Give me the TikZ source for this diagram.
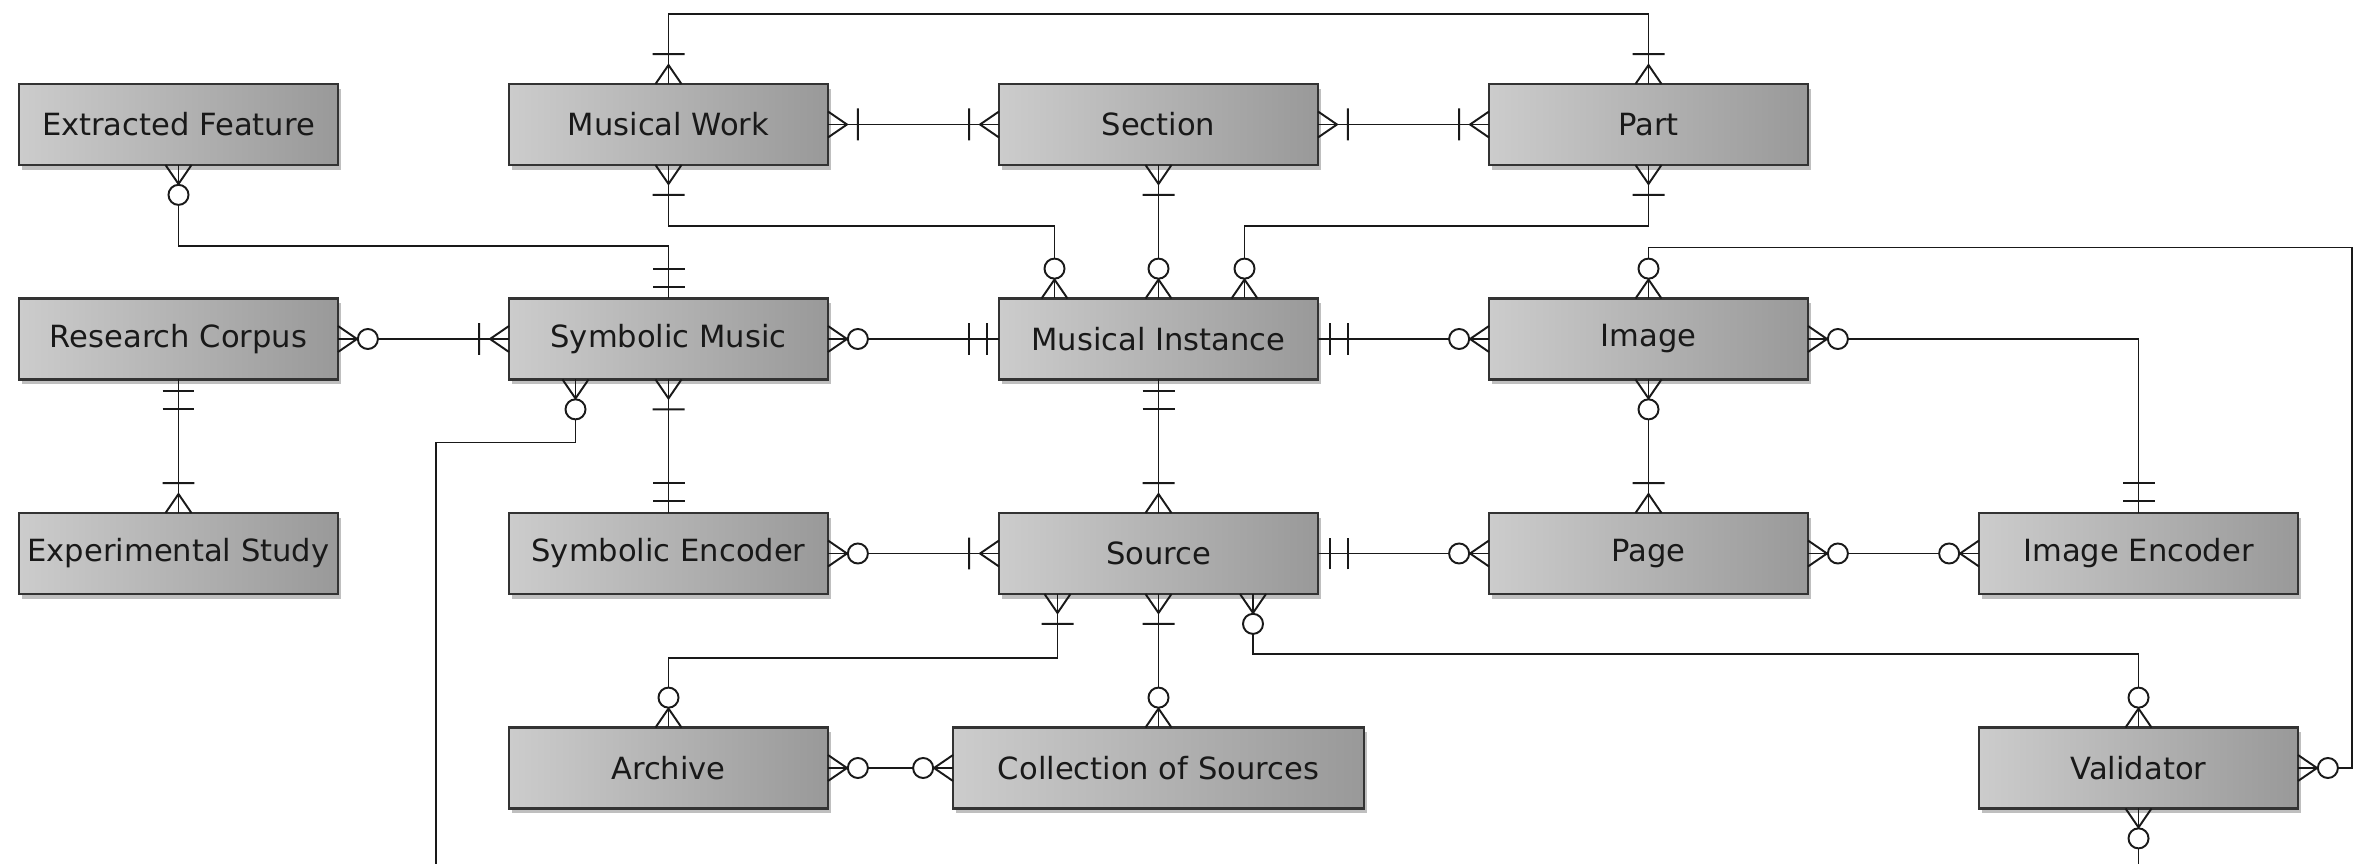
\documentclass[tikz,border=0pt]{standalone}
\usepackage{fontspec}
\setmainfont{DejaVu Sans}
\usetikzlibrary{positioning,shadows}

% crow's foot ends: zero or many, one or many, exactly one
\pgfdeclarearrow{
  name = zmany,
  setup code = {
    \pgfarrowssettipend{0pt}
    \pgfarrowssetlineend{0pt}
    \pgfarrowssetbackend{-11.5pt}
    \pgfarrowshullpoint{0pt}{3.8pt}
    \pgfarrowshullpoint{0pt}{-3.8pt}
    \pgfarrowshullpoint{-11.5pt}{3pt}
    \pgfarrowshullpoint{-11.5pt}{-3pt}
  },
  drawing code = {
    \pgfsetdash{}{0pt}
    \pgfpathmoveto{\pgfpoint{0pt}{3.7pt}}
    \pgfpathlineto{\pgfpoint{-5.4pt}{0pt}}
    \pgfpathlineto{\pgfpoint{0pt}{-3.7pt}}
    \pgfusepathqstroke
    \pgfpathcircle{\pgfpoint{-8.5pt}{0pt}}{2.85pt}
    \pgfsetfillcolor{white}
    \pgfusepathqfillstroke
  }
}
\pgfdeclarearrow{
  name = omany,
  setup code = {
    \pgfarrowssettipend{0pt}
    \pgfarrowssetlineend{0pt}
    \pgfarrowssetbackend{-9pt}
    \pgfarrowshullpoint{0pt}{4.6pt}
    \pgfarrowshullpoint{0pt}{-4.6pt}
    \pgfarrowshullpoint{-9pt}{4.6pt}
    \pgfarrowshullpoint{-9pt}{-4.6pt}
  },
  drawing code = {
    \pgfsetdash{}{0pt}
    \pgfpathmoveto{\pgfpoint{0pt}{3.7pt}}
    \pgfpathlineto{\pgfpoint{-5.4pt}{0pt}}
    \pgfpathlineto{\pgfpoint{0pt}{-3.7pt}}
    \pgfpathmoveto{\pgfpoint{-8.5pt}{4.55pt}}
    \pgfpathlineto{\pgfpoint{-8.5pt}{-4.55pt}}
    \pgfusepathqstroke
  }
}
\pgfdeclarearrow{
  name = one,
  setup code = {
    \pgfarrowssettipend{0pt}
    \pgfarrowssetlineend{0pt}
    \pgfarrowssetbackend{-9pt}
    \pgfarrowshullpoint{0pt}{4.6pt}
    \pgfarrowshullpoint{0pt}{-4.6pt}
    \pgfarrowshullpoint{-9pt}{4.6pt}
    \pgfarrowshullpoint{-9pt}{-4.6pt}
  },
  drawing code = {
    \pgfsetdash{}{0pt}
    \pgfpathmoveto{\pgfpoint{-3.4pt}{4.55pt}}
    \pgfpathlineto{\pgfpoint{-3.4pt}{-4.55pt}}
    \pgfpathmoveto{\pgfpoint{-8.5pt}{4.55pt}}
    \pgfpathlineto{\pgfpoint{-8.5pt}{-4.55pt}}
    \pgfusepathqstroke
  }
}

\tikzset{
    % entity boxes
    entity/.style={
           rectangle,
           draw=black!80, line width=0.6pt,
           left color=black!20, right color=black!40,
           drop shadow={shadow xshift=0.8pt, shadow yshift=-1.4pt,
                        opacity=0.25, fill=black},
           minimum width=3.19cm,
           minimum height=0.81cm,
           inner sep=0pt, outer sep=0pt,
           text=black!90,
           font=\fontsize{8.7}{10}\selectfont},
    % relation lines
    link/.style={
           line width=0.55pt,
           draw=black!90}
}

\begin{document}
\begin{tikzpicture}
\useasboundingbox (0,0) rectangle (23.58,-8.64);
\node[entity] (feature) at (1.785,-1.245) {Extracted Feature};
\node[entity, right=1.71cm of feature] (work) {Musical Work};
\node[entity, right=1.71cm of work] (section) {Section};
\node[entity, right=1.71cm of section] (part) {Part};
\node[entity, below=1.335cm of feature] (corpus) {Research Corpus};
\node[entity, below=1.335cm of work] (symbolic) {Symbolic Music};
\node[entity, below=1.335cm of section] (instance) {Musical Instance};
\node[entity, below=1.335cm of part] (image) {Image};
\node[entity, below=1.335cm of corpus] (study) {Experimental Study};
\node[entity, below=1.335cm of symbolic] (symenc) {Symbolic Encoder};
\node[entity, below=1.335cm of instance] (source) {Source};
\node[entity, below=1.335cm of image] (page) {Page};
\node[entity, right=1.71cm of page] (imgenc) {Image Encoder};
\node[entity, below=1.335cm of symenc] (archive) {Archive};
\node[entity, below=1.335cm of source, minimum width=4.11cm] (collection) {Collection of Sources};
\node[entity, below=1.335cm of imgenc] (validator) {Validator};

\coordinate (symout) at (4.36,-8.64);
\coordinate (valout) at (validator.south |- symout);
\coordinate (valright) at ([xshift=0.54cm]validator.east);

% top row
\draw[link, omany-omany] (work.north) -- ++(0,0.7) -| (part.north);
\draw[link, omany-omany] (work.east) -- (section.west);
\draw[link, omany-omany] (section.east) -- (part.west);
\draw[link, omany-zmany] (work.south) -- ++(0,-0.61) -| ([xshift=-1.04cm]instance.north);
\draw[link, omany-zmany] (section.south) -- (instance.north);
\draw[link, omany-zmany] (part.south) -- ++(0,-0.61) -| ([xshift=0.86cm]instance.north);
\draw[link, zmany-one] (feature.south) -- ++(0,-0.81) -| (symbolic.north);

% second row
\draw[link, zmany-omany] (corpus.east) -- (symbolic.west);
\draw[link, zmany-one] (symbolic.east) -- (instance.west);
\draw[link, one-zmany] (instance.east) -- (image.west);
\draw[link, zmany-one] (image.east) -| (imgenc.north);
\draw[link, zmany-zmany] (image.north) -- ++(0,0.51) -| (valright) -- (validator.east);
\draw[link, zmany-omany] (image.south) -- (page.north);
\draw[link, one-omany] (corpus.south) -- (study.north);
\draw[link, omany-one] (symbolic.south) -- (symenc.north);
\draw[link, zmany-] ([xshift=-0.93cm]symbolic.south) -- ++(0,-0.63) -| (symout);
\draw[link, one-omany] (instance.south) -- (source.north);

% third row
\draw[link, zmany-omany] (symenc.east) -- (source.west);
\draw[link, one-zmany] (source.east) -- (page.west);
\draw[link, zmany-zmany] (page.east) -- (imgenc.west);
\draw[link, omany-zmany] ([xshift=-1.01cm]source.south) -- ++(0,-0.64) -| (archive.north);
\draw[link, omany-zmany] (source.south) -- (collection.north);
\draw[link, zmany-zmany] ([xshift=0.945cm]source.south) -- ++(0,-0.6) -| (validator.north);

% bottom row
\draw[link, zmany-zmany] (archive.east) -- (collection.west);
\draw[link, zmany-] (validator.south) -- (valout);
\end{tikzpicture}
\end{document}
